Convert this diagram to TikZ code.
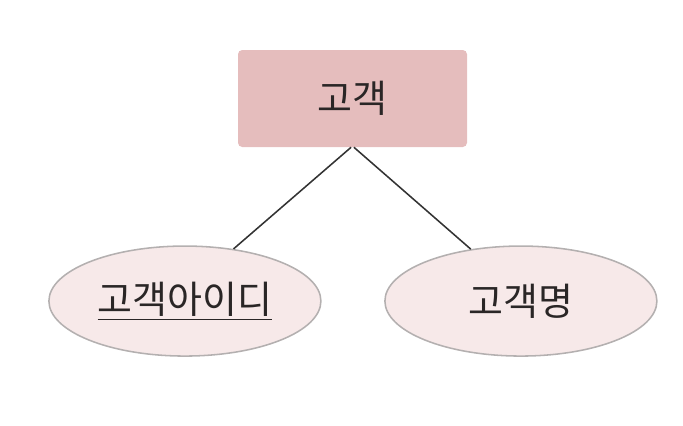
\documentclass[tikz,border=0pt]{standalone}
\usepackage{fontspec}
\setmainfont{Noto Sans CJK KR}
\usepackage{xcolor}
\usetikzlibrary{positioning,shapes.geometric}

\definecolor{entityfill}{HTML}{E5BDBD}
\definecolor{attrfill}{HTML}{F7E9E9}
\definecolor{attrline}{HTML}{B4B0B0}
\definecolor{linkline}{HTML}{333333}
\definecolor{textcol}{HTML}{2A2626}

\begin{document}
\begin{tikzpicture}[
    entitybox/.style={
        rectangle,
        rounded corners=3pt,
        fill=entityfill,
        minimum width=5.725cm,
        minimum height=2.425cm,
        inner sep=0pt,
        text=textcol,
        font=\fontsize{27}{31}\selectfont
    },
    attribute/.style={
        ellipse,
        draw=attrline,
        line width=1.1pt,
        fill=attrfill,
        minimum width=6.8cm,
        minimum height=2.75cm,
        inner sep=0pt,
        text=textcol,
        font=\fontsize{27}{31}\selectfont
    },
    link/.style={
        draw=linkline,
        line width=1.1pt
    }
]

\useasboundingbox (0,0) rectangle (17.075,-10.65);

% =========================
% Entity
% =========================

\node[entitybox] (customer) at (8.8125,-2.4625)
{고객};

% =========================
% Attributes
% =========================

\node[attribute, below=2.45cm of customer, xshift=-4.19cm] (custid)
{\underline{고객아이디}};

\node[attribute, below=2.45cm of customer, xshift=4.21cm] (custname)
{고객명};

% =========================
% Links
% =========================

\draw[link] ([xshift=-1pt]customer.south) -- (custid.47);
\draw[link] ([xshift=1pt]customer.south) -- (custname.134);

\end{tikzpicture}
\end{document}
